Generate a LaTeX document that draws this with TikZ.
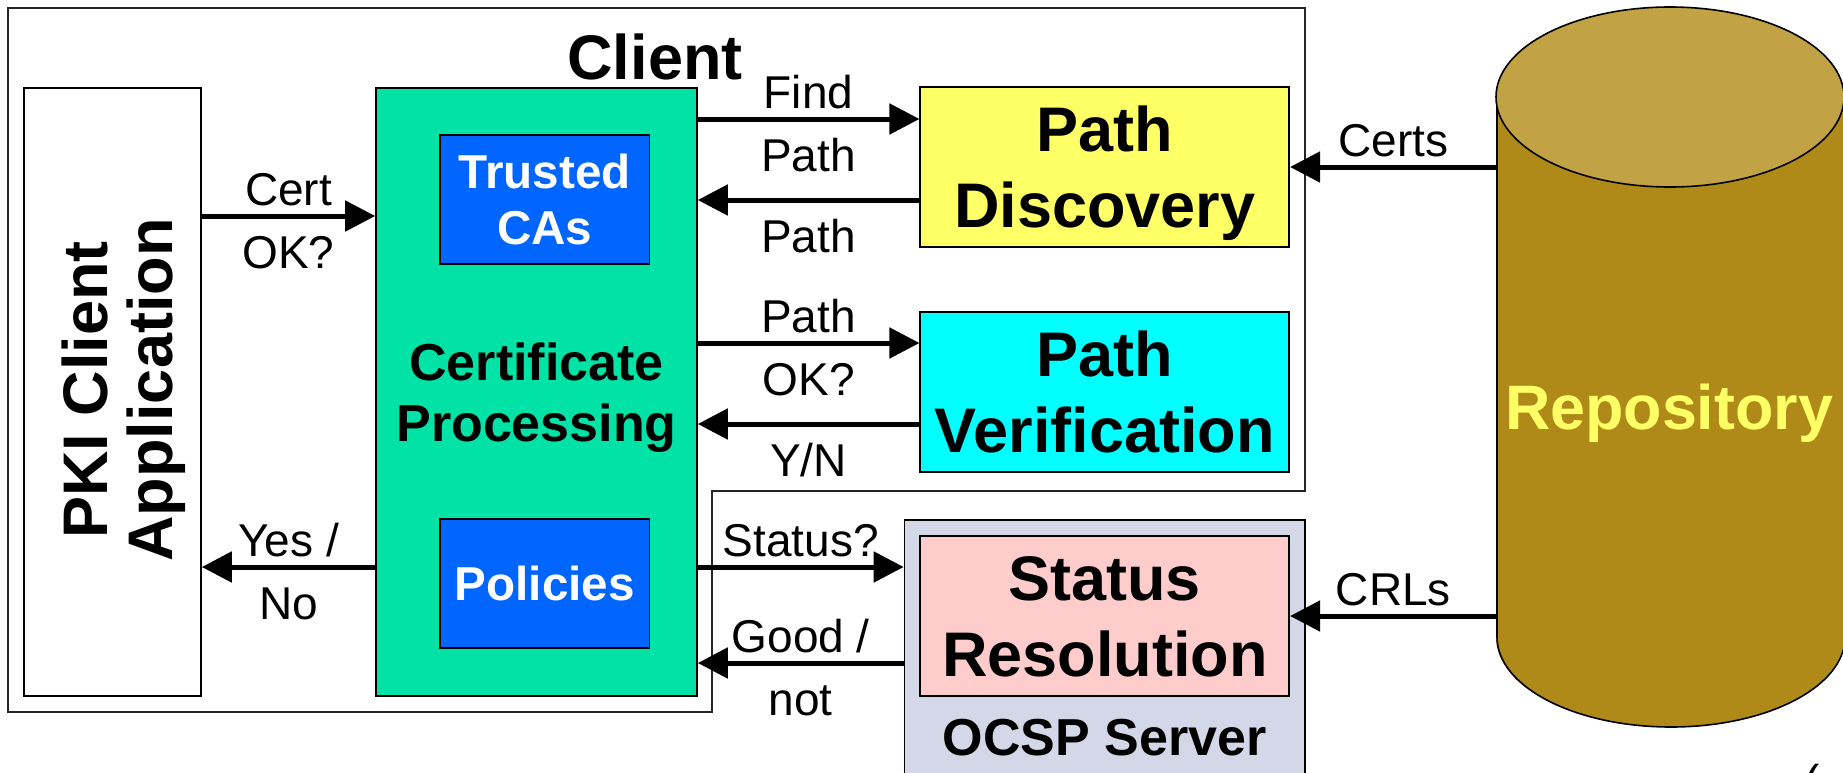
\documentclass[tikz,border=0pt]{standalone}
\usepackage{fontspec}
\setmainfont{Liberation Sans}
\usetikzlibrary{arrows.meta}
\definecolor{procgreen}{HTML}{00E2A6}
\definecolor{casblue}{HTML}{0066FF}
\definecolor{discyellow}{HTML}{FFFF66}
\definecolor{verifcyan}{HTML}{00FFFF}
\definecolor{statuspink}{HTML}{FFCCCC}
\definecolor{ocspgrey}{HTML}{D3D7E8}
\definecolor{repobody}{HTML}{B08A18}
\definecolor{repotop}{HTML}{C1A244}
\definecolor{repotext}{HTML}{FFFF66}

\begin{document}
\begin{tikzpicture}[x=0.5pt,y=-0.5pt]
	\tikzset{plain box/.style={draw,line width=0.8pt,inner sep=0pt,align=center,text depth=0pt,fill=#1},
		blue box/.style={plain box=casblue,text=white,minimum width=104.75pt,minimum height=64.5pt,font=\bfseries\fontsize{23.8}{28}\selectfont},
		side box/.style={plain box=#1,minimum width=184.5pt,minimum height=80pt,font=\bfseries\fontsize{31.5}{38}\selectfont},
		msg arrow/.style={line width=2.5pt,-{Triangle[length=15pt,width=15pt]}},
		msg above/.style={midway,above=4.25pt,inner sep=0pt,text depth=0pt,font=\fontsize{23}{27}\selectfont},
		msg below/.style={midway,below=8.5pt,inner sep=0pt,text height=16.5pt,text depth=0pt,font=\fontsize{23}{27}\selectfont}}
	\useasboundingbox (0,0) rectangle (1843,772);
	
	\draw[line width=0.7pt,black!85] (8,8) -- (1305,8) -- (1305,491) -- (712,491) -- (712,712) -- (8,712) -- cycle;
	\node[anchor=base,inner sep=0pt,font=\bfseries\fontsize{31.5}{38}\selectfont] (clientlbl) at (655,79) {Client};
	
	\node[plain box=white,minimum width=88.5pt,minimum height=304pt] (app) at (112.5,392) {};
	\node[rotate=90,align=center,inner sep=0pt,text depth=0pt,font=\bfseries\fontsize{31.5}{32.5}\selectfont] (apptext) at (117,390) {PKI Client\\Application};
	\node[plain box=procgreen,minimum width=160.5pt,minimum height=304pt,font=\bfseries\fontsize{26}{30.5}\selectfont] (proc) at (536.5,392) {Certificate\\Processing};
	\node[blue box] (cas) at (544.75,199.5) {Trusted\\CAs};
	\node[blue box] (pol) at (544.75,583.5) {Policies};
	
	\node[side box=discyellow] (disc) at (1104.75,167) {Path\\Discovery};
	\node[side box=verifcyan] (verif) at (1104.75,391.75) {Path\\Verification};
	\node[plain box=ocspgrey,minimum width=200.25pt,minimum height=155pt] (ocsp) at (1104.75,675) {};
	\node[side box=statuspink] (status) at (1104.75,616) {Status\\Resolution};
	\node[anchor=base,inner sep=0pt,font=\bfseries\fontsize{26}{31}\selectfont] (ocsplbl) at (1104.75,755) {OCSP Server};
	
	\fill[repobody] (1497,97) rectangle (1844,637);
	\fill[repobody] (1670,637) ellipse[x radius=87pt,y radius=45pt];
	\draw[line width=0.8pt] (1497,97) -- (1497,637) arc[start angle=180,end angle=360,x radius=87pt,y radius=45pt];
	\filldraw[fill=repotop,line width=0.8pt] (1670,97) ellipse[x radius=87pt,y radius=45pt];
	\node[inner sep=0pt,minimum width=173pt,minimum height=270pt] (repo) at (1670,367) {};
	\node[text=repotext,inner sep=0pt,font=\bfseries\fontsize{31.4}{38}\selectfont] (repolbl) at (1669,413) {Repository};
	
	\draw[msg arrow] (app.east |- 0,216) -- node[msg above] (lcert) {Cert} node[msg below] (lcertok) {OK?} (proc.west |- 0,216);
	\draw[msg arrow] (proc.west |- 0,567) -- node[msg above] (lyes) {Yes /} node[msg below] (lno) {No} (app.east |- 0,567);
	\draw[msg arrow] (proc.east |- 0,119) -- node[msg above] (lfind) {Find} node[msg below] (lfindpath) {Path} (disc.west |- 0,119);
	\draw[msg arrow] (disc.west |- 0,200) -- node[msg below] (lpath) {Path} (proc.east |- 0,200);
	\draw[msg arrow] (proc.east |- 0,343) -- node[msg above] (lpathok) {Path} node[msg below] (lok) {OK?} (verif.west |- 0,343);
	\draw[msg arrow] (verif.west |- 0,424) -- node[msg below] (lyn) {Y/N} (proc.east |- 0,424);
	\draw[msg arrow] (proc.east |- 0,567) -- node[msg above] (lstatus) {Status?} (ocsp.west |- 0,567);
	\draw[msg arrow] (ocsp.west |- 0,663) -- node[msg above] (lgood) {Good /} node[msg below] (lnot) {not} (proc.east |- 0,663);
	\draw[msg arrow] (repo.west |- disc.east) -- node[msg above] (lcerts) {Certs} (disc.east);
	\draw[msg arrow] (repo.west |- status.east) -- node[msg above] (lcrls) {CRLs} (status.east);
	
	\node[anchor=base,inner sep=0pt,font=\fontsize{23}{27}\selectfont] (pagemark) at (1812,797) {(};
\end{tikzpicture}
\end{document}
